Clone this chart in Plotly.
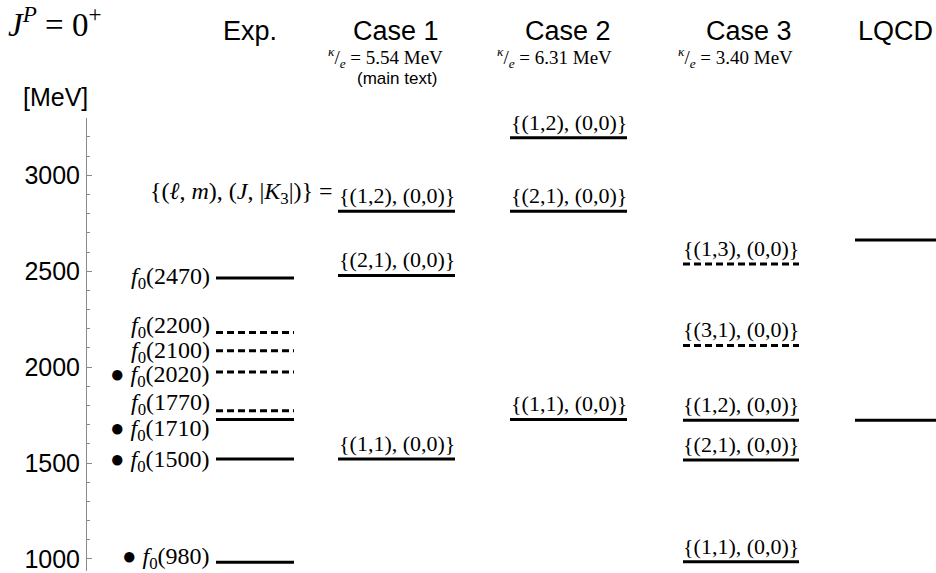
import plotly.graph_objects as go

# ---------------- data ----------------
exp_names = ["2470", "2200", "2100", "2020", "1770", "1710", "1500", "980"]
exp_mass = [2465, 2180, 2086, 1975, 1773, 1727, 1521, 983]
exp_dashed = [False, True, True, True, True, False, False, False]
exp_dot = [False, False, False, True, False, True, True, True]

case1_labels = ["{(1,2), (0,0)}", "{(2,1), (0,0)}", "{(1,1), (0,0)}"]
case1_mass = [2813, 2478, 1521]
case1_dashed = [False, False, False]

case2_labels = ["{(1,2), (0,0)}", "{(2,1), (0,0)}", "{(1,1), (0,0)}"]
case2_mass = [3196, 2813, 1727]
case2_dashed = [False, False, False]

case3_labels = ["{(1,3), (0,0)}", "{(3,1), (0,0)}", "{(1,2), (0,0)}",
                "{(2,1), (0,0)}", "{(1,1), (0,0)}"]
case3_mass = [2538, 2113, 1723, 1516, 985]
case3_dashed = [True, True, False, False, False]

lqcd_mass = [2663, 1723]

column_titles = ["Exp.", "Case 1", "Case 2", "Case 3", "LQCD"]
kappa_values = ["5.54", "6.31", "3.40"]
ytick_vals = [1000, 1500, 2000, 2500, 3000]

# ---------------- layout constants ----------------
W, H = 936, 573
AX_X = 87
Y_TOP_PX = 118
Y_LO, Y_HI = 937, 3301
SERIF = "Liberation Serif"
SANS = "Liberation Sans"

col_span = {
    "exp": (216, 294),
    "c1": (338, 455),
    "c2": (510, 627),
    "c3": (683, 799),
    "lqcd": (855, 940),
}
exp_label_shift = [0, 6, -1, -4, 7, -11, -2, 4]

fig = go.Figure()

solid_x, solid_y, dash_x, dash_y = [], [], [], []


def add_levels(span, masses, dashed):
    for m, d in zip(masses, dashed):
        xs = [span[0], span[1], None]
        ys = [m, m, None]
        if d:
            dash_x.extend(xs); dash_y.extend(ys)
        else:
            solid_x.extend(xs); solid_y.extend(ys)


add_levels(col_span["exp"], exp_mass, exp_dashed)
add_levels(col_span["c1"], case1_mass, case1_dashed)
add_levels(col_span["c2"], case2_mass, case2_dashed)
add_levels(col_span["c3"], case3_mass, case3_dashed)
add_levels(col_span["lqcd"], lqcd_mass, [False] * len(lqcd_mass))

fig.add_trace(go.Scatter(x=solid_x, y=solid_y, mode="lines",
                         line=dict(color="black", width=3), hoverinfo="skip",
                         showlegend=False, cliponaxis=False))
fig.add_trace(go.Scatter(x=dash_x, y=dash_y, mode="lines",
                         line=dict(color="black", width=3, dash="7px,4px"),
                         hoverinfo="skip", showlegend=False, cliponaxis=False))

ann = []
# Exp labels
for name, m, dot, sh in zip(exp_names, exp_mass, exp_dot, exp_label_shift):
    txt = ("\u25CF " if dot else "") + "<i>f</i><sub>0</sub>(" + name + ")"
    ann.append(dict(x=212, y=m, xref="x", yref="y", text=txt, showarrow=False,
                    xanchor="right", yanchor="middle", yshift=sh,
                    font=dict(family=SERIF, size=24, color="black")))


def case_labels(span, labels, masses):
    cx = (span[0] + span[1]) / 2
    for lab, m in zip(labels, masses):
        ann.append(dict(x=cx, y=m, xref="x", yref="y", text=lab, showarrow=False,
                        xanchor="center", yanchor="bottom", yshift=1,
                        font=dict(family=SERIF, size=22, color="black")))


case_labels(col_span["c1"], case1_labels, case1_mass)
case_labels(col_span["c2"], case2_labels, case2_mass)
case_labels(col_span["c3"], case3_labels, case3_mass)

# quantum-number legend text
ann.append(dict(x=335, y=case1_mass[0], xref="x", yref="y",
                text="{(<i>ℓ</i>, <i>m</i>), (<i>J</i>, |<i>K</i><sub>3</sub>|)} =",
                showarrow=False, xanchor="right", yanchor="bottom", yshift=1,
                font=dict(family=SERIF, size=24, color="black")))

# column headers
title_x = [250, 396, 568, 749, 895]
for t, x in zip(column_titles, title_x):
    ann.append(dict(x=x / W, y=1 - 31 / H, xref="paper", yref="paper", text=t,
                    showarrow=False, xanchor="center", yanchor="middle",
                    font=dict(family=SANS, size=27, color="black")))

kappa_x = [385, 554, 735]
for k, x in zip(kappa_values, kappa_x):
    ann.append(dict(x=x / W, y=1 - 58 / H, xref="paper", yref="paper",
                    text="<sup><i>κ</i></sup>/<sub><i>e</i></sub> = " + k + " MeV",
                    showarrow=False, xanchor="center", yanchor="middle",
                    font=dict(family=SERIF, size=19, color="black")))

ann.append(dict(x=397 / W, y=1 - 79 / H, xref="paper", yref="paper",
                text="(main text)", showarrow=False, xanchor="center",
                yanchor="middle", font=dict(family=SANS, size=17, color="black")))

ann.append(dict(x=6 / W, y=1 - 22 / H, xref="paper", yref="paper",
                text="<i>J</i><sup><i>P</i></sup> = 0<sup>+</sup>",
                showarrow=False, xanchor="left", yanchor="middle",
                font=dict(family=SERIF, size=33, color="black")))

ann.append(dict(x=55 / W, y=1 - 97 / H, xref="paper", yref="paper",
                text="[MeV]", showarrow=False, xanchor="center",
                yanchor="middle", font=dict(family=SANS, size=25, color="black")))

fig.update_layout(
    width=W, height=H,
    margin=dict(l=0, r=0, t=0, b=0),
    paper_bgcolor="white", plot_bgcolor="white",
    annotations=ann,
    xaxis=dict(range=[AX_X, W], domain=[AX_X / W, 1], visible=False,
               fixedrange=True),
    yaxis=dict(range=[Y_LO, Y_HI], domain=[0, 1 - Y_TOP_PX / H],
               showline=True, linecolor="#8a8a8a", linewidth=1,
               ticks="inside", ticklen=5, tickcolor="#8a8a8a", tickwidth=1,
               tickmode="array", tickvals=ytick_vals,
               ticktext=[str(v) for v in ytick_vals],
               tickfont=dict(family=SANS, size=25, color="black"),
               ticklabelstandoff=1, ticklabeloverflow="allow",
               minor=dict(ticks="inside", ticklen=3, tickcolor="#8a8a8a",
                          dtick=100, tick0=0, showgrid=False),
               showgrid=False, zeroline=False, fixedrange=True),
    showlegend=False,
)

fig.write_html("out.html",
               config={"displayModeBar": False},
               post_script="document.body.style.margin='0';"
                           "document.body.style.overflow='hidden';")
